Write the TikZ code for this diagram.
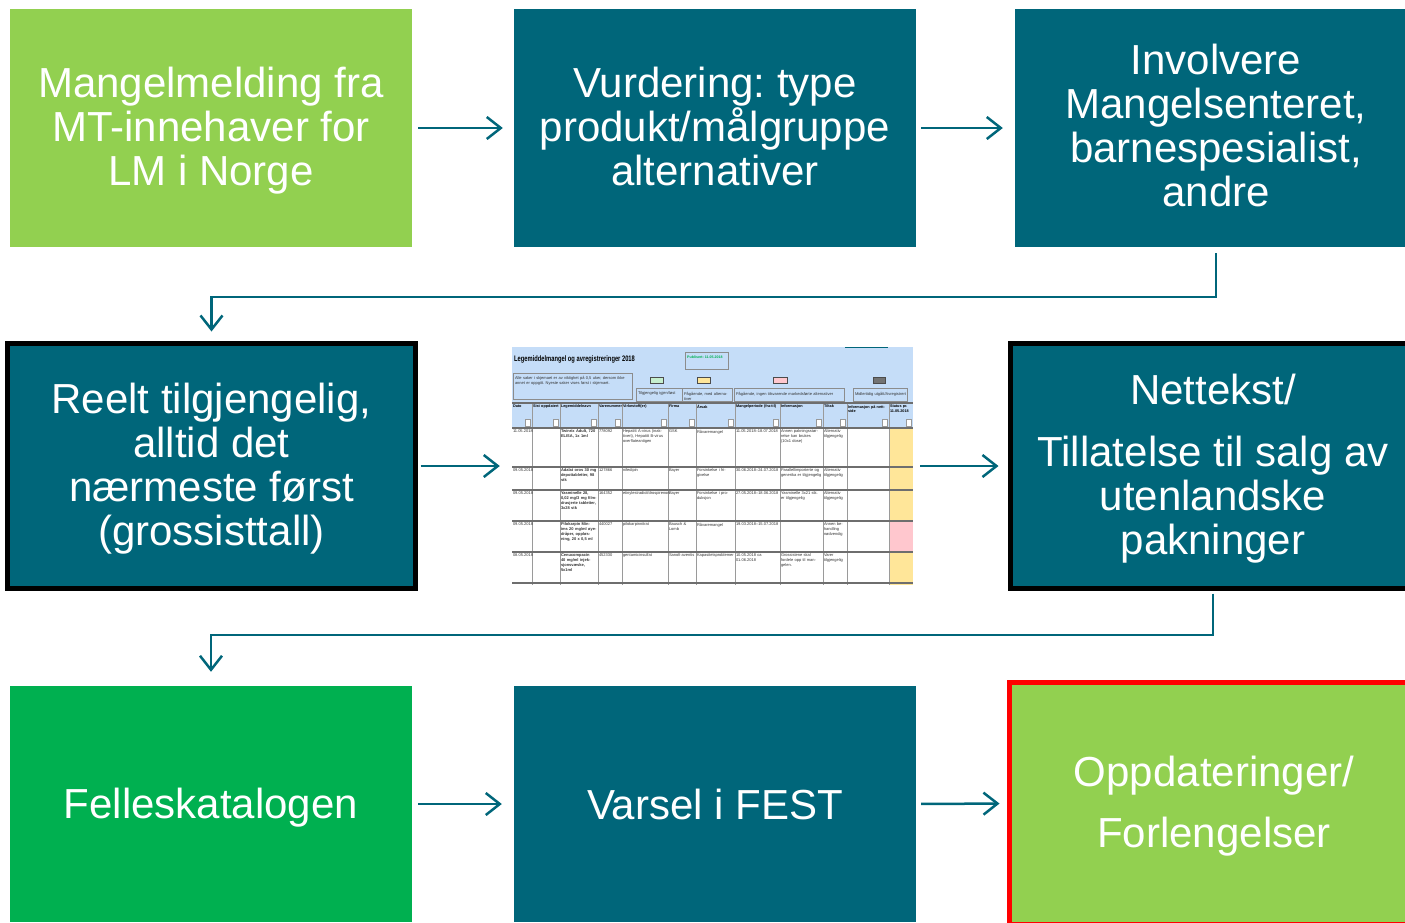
\documentclass[tikz,border=0pt]{standalone}
\usepackage{fontspec}
\setmainfont{Liberation Sans}
\usepackage{graphicx}
\usetikzlibrary{arrows.meta}
\definecolor{tealc}{RGB}{0,102,122}
\definecolor{lgreen}{RGB}{146,208,80}
\definecolor{dgreen}{RGB}{0,176,80}
\definecolor{ssblue}{RGB}{197,221,248}
\definecolor{ssyellow}{RGB}{255,230,153}
\definecolor{sspink}{RGB}{255,199,206}
\definecolor{ssgreen}{RGB}{198,239,206}
\definecolor{ssgrid}{RGB}{110,110,110}
\newcommand{\sscell}[4]{\node[sstext, text width=#3pt] at (#1,#2) {#4};}
\frenchspacing
\begin{document}
\begin{tikzpicture}[x=1pt,y=-1pt,
  box/.style={rectangle, inner sep=0pt},
  boxtext/.style={inner sep=0pt, text=white, align=center, font=\fontsize{42}{44}\selectfont},
  flow/.style={draw=tealc, line width=2.5pt, -{Straight Barb[length=14pt,width=22pt,line width=2.5pt]}},
  sstext/.style={anchor=north west, inner sep=0.8pt, align=left, font=\fontsize{4}{4.8}\selectfont, text=black!80},
  sshead/.style={sstext, font=\fontsize{3.8}{4.5}\selectfont\bfseries, text=black},
  ssbox/.style={draw=black!45, line width=0.4pt},
]
\useasboundingbox (0,0) rectangle (1405,922);

% ---------- row 1 ----------
\node[box, fill=lgreen, minimum width=402pt, minimum height=238pt] (b1) at (211,128) {};
\node[box, fill=tealc, minimum width=402pt, minimum height=238pt] (b2) at (715,128) {};
\node[box, fill=tealc, minimum width=402pt, minimum height=238pt] (b3) at (1216,128) {};
\node[boxtext] (b1t) at ([yshift=-2.5pt]b1.center) {Mangelmelding fra\\MT-innehaver for\\LM i Norge};
\node[boxtext] (b2t) at ([yshift=2pt]b2.center) {Vurdering: type\\produkt/målgruppe\\alternativer};
\node[boxtext] (b3t) at ([yshift=3pt]b3.center) {Involvere\\Mangelsenteret,\\barnespesialist,\\andre};

% ---------- row 2 ----------
\node[box, fill=tealc, draw=black, line width=5pt, minimum width=408pt, minimum height=245pt] (b4) at (211.5,466) {};
\node[box, minimum width=401pt, minimum height=238pt] (ss) at (712.5,466) {};
\node[box, fill=tealc, draw=black, line width=5pt, minimum width=405pt, minimum height=245pt] (b6) at (1213,466) {};
\node[boxtext] (b4t) at ([yshift=-3pt]b4.center) {Reelt tilgjengelig,\\alltid det\\nærmeste først\\(grossisttall)};
\node[boxtext] (b6t) at ([yshift=-3pt]b6.center) {Nettekst/\\[18pt]Tillatelse til salg av\\utenlandske\\pakninger};

% ---------- row 3 ----------
\node[box, fill=dgreen, minimum width=402pt, minimum height=236pt] (b7) at (211,804) {};
\node[box, fill=tealc, minimum width=402pt, minimum height=236pt] (b8) at (715,804) {};
\node[box, fill=lgreen, draw=red, line width=5pt, minimum width=409pt, minimum height=242pt] (b9) at (1214,803.5) {};
\node[boxtext] (b7t) at ([yshift=-3.5pt]b7.center) {Felleskatalogen};
\node[boxtext] (b8t) at (b8.center) {Varsel i FEST};
\node[boxtext] (b9t) at ([yshift=-3pt]b9.center) {Oppdateringer/\\[17pt]Forlengelser};

% ---------- spreadsheet picture ----------
\begin{scope}
\clip (512,347) rectangle (913,585);
\fill[white] (512,347) rectangle (913,585);
\fill[ssblue] (512,347) rectangle (913,428);
\draw[tealc, line width=1.2pt] (845,347.6) -- (888,347.6);
\node[anchor=west, inner sep=0pt, font=\fontsize{8}{9}\selectfont\bfseries] (sstitle) at (514,359)
  {\scalebox{0.72}[1]{Legemiddelmangel og avregistreringer 2018}};
\draw[ssbox] (685,352) rectangle (728,369);
\node[anchor=west, inner sep=0pt, font=\fontsize{3.6}{4}\selectfont\bfseries, text=dgreen] (sspub) at (687,357) {Publisert: 11.05.2018};
\draw[ssbox] (513,373) rectangle (632,399);
\node[sstext, text width=115pt] (ssnote) at (514,375) {Alle saker i skjemaet er av viktighet på 0,5 uker, dersom ikke annet er oppgitt. Nyeste saker vises først i skjemaet.};
% legend
\draw[black!70, fill=ssgreen, line width=0.5pt] (650,377) rectangle (663,383);
\draw[black!70, fill=ssyellow, line width=0.5pt] (697,377) rectangle (710,383);
\draw[black!70, fill=sspink, line width=0.5pt] (773,377) rectangle (787,383);
\draw[black!70, fill=black!55, line width=0.5pt] (873,377) rectangle (885,383);
\draw[ssbox] (636,388) rectangle (682,401);
\draw[ssbox] (682,388) rectangle (732,401);
\draw[ssbox] (734,388) rectangle (844,401);
\draw[ssbox] (853,388) rectangle (907,401);
\node[sstext, text width=44pt] (lg1) at (637,391) {Tilgjengelig igjen/løst};
\node[sstext, text width=48pt] (lg2) at (683,391) {Pågående, med alternativer};
\node[sstext, text width=108pt] (lg3) at (735,391) {Pågående, ingen tilsvarende markedsførte alternativer};
\node[sstext, text width=52pt] (lg4) at (854,391) {Midlertidig utgått/Avregistrert};
% status column colours
\fill[ssyellow] (889,428) rectangle (913,521);
\fill[sspink] (889,521) rectangle (913,552);
\fill[ssyellow] (889,552) rectangle (913,585);
% grid
\foreach \x in {532,560,598,622,668,696,735,780,823,847,889}
  \draw[ssgrid!70, line width=0.5pt] (\x,403) -- (\x,585);
\foreach \y in {403,428,467,490,521,552,583}
  \draw[ssgrid, line width=1.2pt] (512,\y) -- (913,\y);
% header labels
\foreach \x/\w/\t in {512/18/{Dato}, 532/26/{Sist oppdatert}, 560/36/{Legemiddelnavn}, 598/22/{Varenummer},
  622/44/{Virkestoff(er)}, 668/26/{Firma}, 696/37/{Årsak}, 735/43/{Mangelperiode (fra-til)},
  780/41/{Informasjon}, 823/22/{Tiltak}, 847/40/{Informasjon på nettside}, 889/22/{Status pr. 11.05.2018}}
  \node[sshead, text width=\w pt] at (\x,404) {\t};
% filter buttons
\foreach \x in {532,560,598,622,668,696,735,780,823,847,889,913}
  \draw[black!40, fill=white, line width=0.3pt] (\x-7,419) rectangle (\x-1.5,426.5);
% row 1
\sscell{512}{429}{18}{11.05.2018}
\sscell{560}{429}{36}{\textbf{Twinrix Adult, 720 ELISA, 1x 1ml}}
\sscell{598}{429}{22}{778092}
\sscell{622}{429}{44}{Hepatitt A-virus (inaktivert), Hepatitt B-virus overflateantigen}
\sscell{668}{429}{26}{GSK}
\sscell{696}{429}{37}{Råvaremangel}
\sscell{735}{429}{43}{11.05.2018–18.07.2018}
\sscell{780}{429}{41}{Annen pakningsstørrelse kan brukes (10x1 dose)}
\sscell{823}{429}{22}{Alternativ tilgjengelig}
% row 2
\sscell{512}{468}{18}{09.05.2018}
\sscell{560}{468}{36}{\textbf{Adalat oros 30 mg depottabletter, 98 stk}}
\sscell{598}{468}{22}{127866}
\sscell{622}{468}{44}{nifedipin}
\sscell{668}{468}{26}{Bayer}
\sscell{696}{468}{37}{Forsinkelse i frigivelse}
\sscell{735}{468}{43}{30.06.2018–24.07.2018}
\sscell{780}{468}{41}{Parallellimporterte og generika er tilgjengelig}
\sscell{823}{468}{22}{Alternativ tilgjengelig}
% row 3
\sscell{512}{491}{18}{09.05.2018}
\sscell{560}{491}{36}{\textbf{Yasminelle 28, 0,02 mg/3 mg filmdrasjerte tabletter, 3x28 stk}}
\sscell{598}{491}{22}{164352}
\sscell{622}{491}{44}{etinylestradiol/drospirenon}
\sscell{668}{491}{26}{Bayer}
\sscell{696}{491}{37}{Forsinkelse i produksjon}
\sscell{735}{491}{43}{27.05.2018–18.06.2018}
\sscell{780}{491}{41}{Yasminelle 3x21 stk. er tilgjengelig}
\sscell{823}{491}{22}{Alternativ tilgjengelig}
% row 4
\sscell{512}{522}{18}{09.05.2018}
\sscell{560}{522}{36}{\textbf{Pilokarpin Minims 20 mg/ml øyedråper, oppløsning, 20 x 0,5 ml}}
\sscell{598}{522}{22}{440027}
\sscell{622}{522}{44}{pilokarpinnitrat}
\sscell{668}{522}{26}{Bausch \& Lomb}
\sscell{696}{522}{37}{Råvaremangel}
\sscell{735}{522}{43}{19.03.2018–15.07.2018}
\sscell{823}{522}{22}{Annen behandling nødvendig}
% row 5
\sscell{512}{553}{18}{08.05.2018}
\sscell{560}{553}{36}{\textbf{Cenucompacin 40 mg/ml injeksjonsvæske, 5x1ml}}
\sscell{598}{553}{22}{452330}
\sscell{622}{553}{44}{gentamicinsulfat}
\sscell{668}{553}{26}{Sanofi-aventis}
\sscell{696}{553}{37}{Kapasitetsproblemer}
\sscell{735}{553}{43}{10.05.2018 ca 01.06.2018}
\sscell{780}{553}{41}{Grossistene skal fordele opp til mangelen.}
\sscell{823}{553}{22}{Varer tilgjengelig}
\end{scope}

% ---------- connectors ----------
\coordinate (r1) at (0,297);
\coordinate (r2) at (0,635);
\draw[flow, shorten <=6pt, shorten >=11pt] (b1.east) -- (b2.west);
\draw[flow, shorten <=5pt, shorten >=12pt] (b2.east) -- (b3.west);
\draw[flow, shorten <=6pt, shorten >=9.5pt] (b3.south) -- (b3.south |- r1) -- (b4.north |- r1) -- (b4.north);
\draw[flow, shorten <=2.5pt, shorten >=12pt] (b4.east) -- (ss.west);
\draw[flow, shorten <=7pt, shorten >=9.5pt] (ss.east) -- (b6.west);
\draw[flow, shorten <=2.5pt, shorten >=14pt] (b6.south) -- (b6.south |- r2) -- (b7.north |- r2) -- (b7.north);
\draw[flow, shorten <=6pt, shorten >=12pt] (b7.east) -- (b8.west);
\draw[flow, shorten <=5pt, shorten >=7.5pt] (b8.east) -- (b9.west);
\end{tikzpicture}
\end{document}
